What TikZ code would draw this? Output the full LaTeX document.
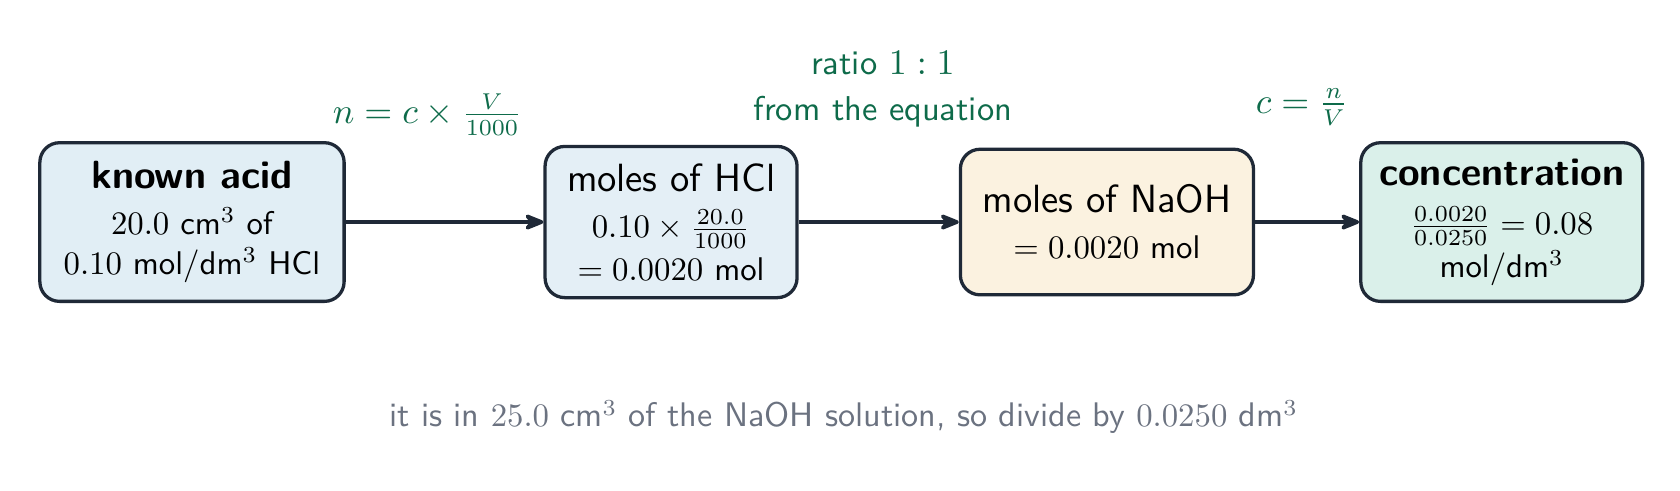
\documentclass[tikz,border=0pt]{standalone}
\usepackage{xcolor}
\usetikzlibrary{arrows.meta}
\definecolor{boxline}{HTML}{1F2937}
\definecolor{acidfill}{HTML}{E1EEF5}
\definecolor{molfill}{HTML}{E4EFF6}
\definecolor{basefill}{HTML}{FBF2E0}
\definecolor{concfill}{HTML}{DAF0EA}
\definecolor{rulegreen}{HTML}{0E6B4A}
\definecolor{notegray}{HTML}{6B7280}

\begin{document}
\begin{tikzpicture}[font=\sffamily,
  stage/.style={draw=boxline, line width=1pt, rounded corners=6pt, align=center, inner sep=2pt},
  link/.style={->,>={Stealth[length=7.5pt,width=6pt,round]}, line width=1.1pt, draw=boxline},
  rule/.style={text=rulegreen, align=center, font=\sffamily\fontsize{10.5}{14}\selectfont}]
  \useasboundingbox (0,-2.871) rectangle (18,2.379);
  \node[stage, fill=acidfill, minimum width=3.26cm, minimum height=1.70cm] (acid) at (2.057,0)
    {{\large\bfseries known acid}\\[2pt] $20.0$ cm$^3$ of\\ $0.10$ mol/dm$^3$ HCl};
  \node[stage, fill=molfill, minimum width=2.70cm, minimum height=1.62cm] (hcl) at (7.19,0)
    {{\large moles of HCl}\\[2pt] $0.10\times\frac{20.0}{1000}$\\[1pt] $=0.0020$ mol};
  \node[stage, fill=basefill, minimum width=3.14cm, minimum height=1.56cm] (naoh) at (11.86,0)
    {{\large moles of NaOH}\\[2pt] $=0.0020$ mol};
  \node[stage, fill=concfill, minimum width=3.02cm, minimum height=1.70cm] (conc) at (16.09,0)
    {{\large\bfseries concentration}\\[3pt] $\frac{0.0020}{0.0250}=0.08$\\[1pt] mol/dm$^3$};
  \draw[link] (acid) -- (hcl);
  \draw[link] (hcl) -- (naoh);
  \draw[link] (naoh) -- (conc);
  \node[rule] (volrule) at (4.58,1.15) {$n=c\times\frac{V}{1000}$};
  \node[rule] (ratio) at (9.46,1.42) {ratio $1:1$\\ from the equation};
  \node[rule] (concrule) at (13.95,1.23) {$c=\frac{n}{V}$};
  \node[text=notegray, font=\sffamily\fontsize{10.4}{12}\selectfont] (note) at (9.04,-2.09)
    {it is in $25.0$ cm$^3$ of the NaOH solution, so divide by $0.0250$ dm$^3$};
\end{tikzpicture}
\end{document}
